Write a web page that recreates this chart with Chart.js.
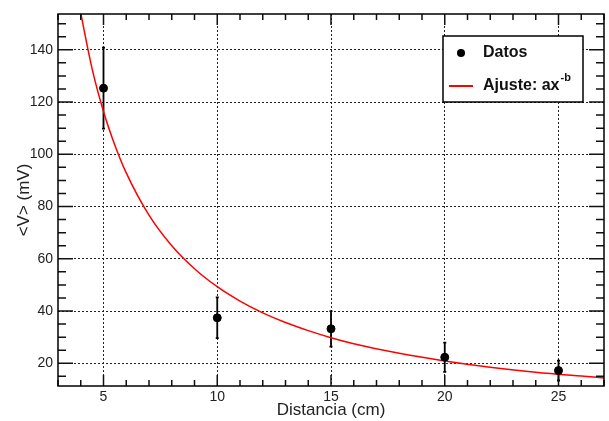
<!DOCTYPE html>
<html>
<head>
<meta charset="utf-8">
<script src="https://cdn.jsdelivr.net/npm/chart.js@4"></script>
<style>
  body { margin: 0; background: #fff; }
  #wrap { width: 609px; height: 421px; }
</style>
</head>
<body>
<div id="wrap"><canvas id="grafico"></canvas></div>
<script>
// datos medidos
const distancia = [5, 10, 15, 20, 25];
const voltaje = [125.3, 37.4, 33.2, 22.3, 17.2];
const errorV = [15.5, 7.8, 6.8, 5.6, 3.8];

// curva de ajuste
const ajusteX = [3.9, 4.5, 5, 5.5, 6, 7, 8, 9, 10, 11, 12, 13, 14, 15, 16, 18, 20, 22, 24, 26, 27];
const ajusteY = [158.4, 132.7, 116.4, 103.5, 92.9, 76.7, 65.0, 56.2, 49.3, 43.8, 39.3, 35.6, 32.5, 29.8, 27.5, 23.8, 20.9, 18.5, 16.6, 15.1, 14.4];

const FUENTE = '"Liberation Sans", Arial, Helvetica, sans-serif';

// marco estilo ROOT: ticks hacia dentro, barras de error y leyenda
const marcoPlugin = {
    id: 'marco',
    beforeDatasetsDraw(chart) {
        const ctx = chart.ctx;
        const xs = chart.scales.x, ys = chart.scales.y;
        ctx.save();
        ctx.strokeStyle = '#000';
        ctx.lineWidth = 1.8;
        distancia.forEach((d, i) => {
            const px = xs.getPixelForValue(d);
            const top = ys.getPixelForValue(voltaje[i] + errorV[i]);
            const bot = ys.getPixelForValue(voltaje[i] - errorV[i]);
            ctx.beginPath();
            ctx.moveTo(px, top); ctx.lineTo(px, bot);
            ctx.moveTo(px - 1.5, top); ctx.lineTo(px + 1.5, top);
            ctx.moveTo(px - 1.5, bot); ctx.lineTo(px + 1.5, bot);
            ctx.stroke();
        });
        ctx.restore();
    },
    afterDatasetsDraw(chart) {
        const ctx = chart.ctx;
        const a = chart.chartArea;
        const xs = chart.scales.x, ys = chart.scales.y;
        ctx.save();
        ctx.strokeStyle = '#111';
        ctx.lineWidth = 1.5;
        ctx.beginPath();
        // ticks eje y
        for (let v = 15; v <= 150; v += 5) {
            const py = ys.getPixelForValue(v);
            const len = v % 20 === 0 ? 15 : 8;
            ctx.moveTo(a.left, py); ctx.lineTo(a.left + len, py);
            ctx.moveTo(a.right, py); ctx.lineTo(a.right - len, py);
        }
        // ticks eje x
        for (let v = 3; v <= 27; v += 1) {
            const px = xs.getPixelForValue(v);
            const len = v % 5 === 0 ? 11 : 6;
            ctx.moveTo(px, a.bottom); ctx.lineTo(px, a.bottom - len);
            ctx.moveTo(px, a.top); ctx.lineTo(px, a.top + len);
        }
        ctx.stroke();
        ctx.strokeStyle = '#000';
        ctx.strokeRect(a.left, a.top, a.right - a.left, a.bottom - a.top);

        // leyenda
        const lx = 443, ly = 36, lw = 140, lh = 66;
        ctx.fillStyle = '#fff';
        ctx.fillRect(lx, ly, lw, lh);
        ctx.lineWidth = 1.5;
        ctx.strokeRect(lx, ly, lw, lh);
        ctx.fillStyle = '#000';
        ctx.beginPath();
        ctx.arc(461, 53, 4, 0, Math.PI * 2);
        ctx.fill();
        ctx.strokeStyle = '#ff0000';
        ctx.lineWidth = 2;
        ctx.beginPath();
        ctx.moveTo(449, 86); ctx.lineTo(473, 86);
        ctx.stroke();
        ctx.fillStyle = '#111';
        ctx.textBaseline = 'middle';
        ctx.textAlign = 'left';
        ctx.font = 'bold 16px ' + FUENTE;
        ctx.fillText('Datos', 483, 53);
        ctx.fillText('Ajuste: ax', 483, 86);
        const w = ctx.measureText('Ajuste: ax').width;
        ctx.font = 'bold 11px ' + FUENTE;
        ctx.fillText('-b', 483 + w + 1, 78);
        ctx.restore();
    }
};

const ctx = document.getElementById('grafico');
new Chart(ctx, {
    type: 'scatter',
    data: {
        datasets: [
            {
                label: 'Datos',
                data: distancia.map((d, i) => ({ x: d, y: voltaje[i] })),
                backgroundColor: '#000',
                borderColor: '#000',
                pointRadius: 4,
                order: 1
            },
            {
                label: 'Ajuste: ax^-b',
                data: ajusteX.map((d, i) => ({ x: d, y: ajusteY[i] })),
                showLine: true,
                borderColor: '#ff0000',
                borderWidth: 1.5,
                pointRadius: 0,
                cubicInterpolationMode: 'monotone',
                order: 2
            }
        ]
    },
    options: {
        responsive: true,
        maintainAspectRatio: false,
        animation: false,
        layout: { padding: { top: 14, right: 2, left: 0, bottom: 0 } },
        plugins: {
            legend: { display: false },
            tooltip: { enabled: false }
        },
        scales: {
            x: {
                type: 'linear',
                min: 3,
                max: 27,
                afterFit(scale) { scale.height = 35; },
                ticks: {
                    stepSize: 5,
                    includeBounds: false,
                    padding: 3,
                    color: '#222',
                    font: { family: FUENTE, size: 14 }
                },
                grid: { color: '#222', lineWidth: 1, drawTicks: false },
                border: { display: false, dash: [2, 2] },
                title: {
                    display: true,
                    text: 'Distancia (cm)',
                    color: '#222',
                    padding: { top: 0, bottom: 0 },
                    font: { family: FUENTE, size: 17 }
                }
            },
            y: {
                type: 'linear',
                min: 11.3,
                max: 153.7,
                afterFit(scale) { scale.width = 58; },
                ticks: {
                    stepSize: 20,
                    includeBounds: false,
                    padding: 5,
                    color: '#222',
                    font: { family: FUENTE, size: 14 }
                },
                grid: { color: '#222', lineWidth: 1, drawTicks: false },
                border: { display: false, dash: [2, 2] },
                title: {
                    display: true,
                    text: '<V> (mV)',
                    color: '#222',
                    padding: { top: 14, bottom: 0 },
                    font: { family: FUENTE, size: 17 }
                }
            }
        }
    },
    plugins: [marcoPlugin]
});
</script>
</body>
</html>
